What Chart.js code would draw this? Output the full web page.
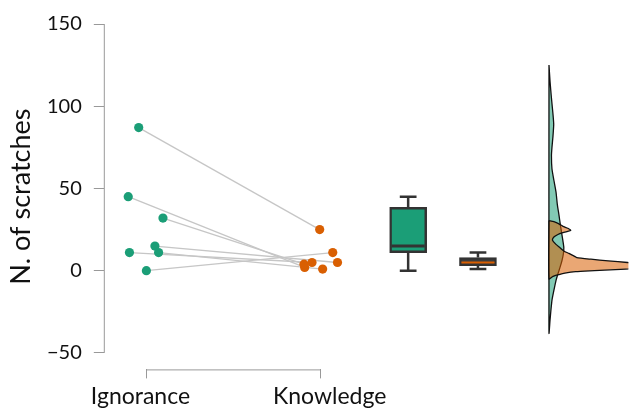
<!DOCTYPE html>
<html>
<head>
<meta charset="utf-8">
<script src="https://cdn.jsdelivr.net/npm/chart.js@4.4.0/dist/chart.umd.min.js"></script>
<style>
  html, body {margin:0; padding:0; background:#fff;}
  #wrap {width:633px; height:414px;}
</style>
</head>
<body>
<div id="wrap"><canvas id="chart1canvas"></canvas></div>
<script>
/* Groups and axis ticks */
const categories=["Ignorance","Knowledge"];
const yTicks=[-50,0,50,100,150];

/* Paired observations (same subject in both conditions), x jitter in category units */
const ignoranceValues=[87,45,32,15,11,11,0];
const ignoranceJitter=[-0.044,-0.104,0.095,0.049,-0.097,0.070,0.000];
const knowledgeValues=[25,2,4,5,5,1,11];
const knowledgeJitter=[-0.007,-0.093,-0.097,0.095,-0.051,0.010,0.068];

/* Half violin outlines: level and width (x units) */
const ignoranceDensityY=[125,115,105,95,89,82,75,70,62,55,48,40,34,28,22,18,14,10,6,2,-2,-6,-12,-18,-24,-30,-38];
const ignoranceDensityW=[0,0.006,0.014,0.023,0.027,0.023,0.017,0.014,0.017,0.028,0.040,0.048,0.057,0.065,0.074,0.080,0.085,0.082,0.074,0.063,0.051,0.040,0.028,0.017,0.011,0.006,0];
const knowledgeDensityY=[30.5,29.8,28.5,27,25.8,24.6,23.8,23,22,20.5,18.6,16,14,12,10.5,9,8,7,6,5,4,3,2,1,0,-0.6,-1.5,-2.4,-3.5,-5];
const knowledgeDensityW=[0,0.028,0.057,0.080,0.108,0.125,0.102,0.074,0.051,0.028,0.020,0.040,0.063,0.085,0.114,0.142,0.159,0.240,0.340,0.450,0.568,0.640,0.568,0.440,0.260,0.153,0.091,0.057,0.023,0];

/* Layout of the extra panels along x */
const boxPositions=[1.5,1.9];
const densityBase=2.307;
const boxHalf=0.105;
const capHalf=0.048;

const green="#1b9e77";
const orange="#d95f02";
const dark="#333333";

function quantile(sorted, q) {
  const pos=(sorted.length-1)*q;
  const lo=Math.floor(pos), hi=Math.ceil(pos);
  return sorted[lo]+(sorted[hi]-sorted[lo])*(pos-lo);
}

/* Box plot statistics, whiskers at 1.5 IQR */
function boxStats(values) {
  const s=[...values].sort((a,b)=>a-b);
  const q1=quantile(s,0.25), med=quantile(s,0.5), q3=quantile(s,0.75);
  const iqr=q3-q1;
  const inside=s.filter(v=>v>=q1-1.5*iqr && v<=q3+1.5*iqr);
  return {q1, med, q3, low: inside[0], high: inside[inside.length-1]};
}

function segment(points, color, width, order) {
  return {type: 'line', data: points, borderColor: color, borderWidth: width, pointRadius: 0, pointHoverRadius: 0, fill: false, tension: 0, order: order};
}

function halfViolin(levels, widths, fillColor, order) {
  const pts=levels.map((y,i)=>({x: densityBase+widths[i], y: y}));
  pts.push({x: densityBase, y: levels[0]});
  return {type: 'line', data: pts, borderColor: "#111", borderWidth: 1.3, backgroundColor: fillColor, pointRadius: 0, pointHoverRadius: 0, fill: 'shape', tension: 0.2, order: order};
}

const datasets=[];

/* Points */
datasets.push({type: 'scatter', data: ignoranceValues.map((v,i)=>({x: ignoranceJitter[i], y: v})), backgroundColor: green, borderWidth: 0, pointRadius: 4.6, pointHoverRadius: 4.6, order: 0});
datasets.push({type: 'scatter', data: knowledgeValues.map((v,i)=>({x: 1+knowledgeJitter[i], y: v})), backgroundColor: orange, borderWidth: 0, pointRadius: 4.6, pointHoverRadius: 4.6, order: 0});

/* Connecting lines */
for (let i=0;i<ignoranceValues.length;i++) {
  datasets.push(segment([{x: ignoranceJitter[i], y: ignoranceValues[i]}, {x: 1+knowledgeJitter[i], y: knowledgeValues[i]}], "#c6c6c6", 1.3, 1));
}

/* Box plots */
const stats=[boxStats(ignoranceValues), boxStats(knowledgeValues)];
const medianColors=[dark, orange];
const medianWidths=[3, 2];
stats.forEach((st,k)=>{
  const c=boxPositions[k];
  datasets.push(segment([{x: c-boxHalf+0.01, y: st.med}, {x: c+boxHalf-0.01, y: st.med}], medianColors[k], medianWidths[k], 2));
  datasets.push(segment([{x: c, y: st.q3}, {x: c, y: st.high}], dark, 2.5, 4));
  datasets.push(segment([{x: c, y: st.q1}, {x: c, y: st.low}], dark, 2.5, 4));
  datasets.push(segment([{x: c-capHalf, y: st.high}, {x: c+capHalf, y: st.high}], dark, 2.5, 4));
  datasets.push(segment([{x: c-capHalf, y: st.low}, {x: c+capHalf, y: st.low}], dark, 2.5, 4));
});
datasets.push({type: 'bar', data: stats.map((st,k)=>({x: boxPositions[k], y: [st.q1, st.q3]})), backgroundColor: [green, "#3c3c3c"], borderColor: dark, borderWidth: 2.5, borderSkipped: false, barThickness: 37, grouped: false, order: 3});

/* Densities */
datasets.push(halfViolin(knowledgeDensityY, knowledgeDensityW, "rgba(217,95,2,0.55)", 5));
datasets.push(halfViolin(ignoranceDensityY, ignoranceDensityW, "rgba(27,158,119,0.55)", 6));

/* Axis lines trimmed to the first/last tick */
const trimmedAxes={
  id: 'trimmedAxes',
  beforeDatasetsDraw(chart) {
    const {ctx, chartArea, scales}=chart;
    ctx.save();
    ctx.strokeStyle="#999";
    ctx.lineWidth=1;
    ctx.beginPath();
    ctx.moveTo(chartArea.left+0.5, scales.y.getPixelForValue(yTicks[0]));
    ctx.lineTo(chartArea.left+0.5, scales.y.getPixelForValue(yTicks[yTicks.length-1]));
    ctx.moveTo(scales.x.getPixelForValue(0), chartArea.bottom+0.5);
    ctx.lineTo(scales.x.getPixelForValue(categories.length-1), chartArea.bottom+0.5);
    ctx.stroke();
    ctx.restore();
  }
};

/* Labels sit slightly off their ticks in the original; nudge with spaces */
const labelNudge=["  ", "   "];

const chart=new Chart(chart1canvas, {
  type: 'scatter',
  data: {datasets: datasets},
  options: {
    responsive: true,
    maintainAspectRatio: false,
    animation: false,
    layout: {padding: {top: 16, left: 8, right: 0, bottom: 0}},
    plugins: {legend: {display: false}, tooltip: {enabled: false}},
    scales: {
      x: {
        type: 'linear', min: -0.244, max: 2.762, offset: false,
        afterBuildTicks: s=>{s.ticks=categories.map((_,i)=>({value: i}));},
        grid: {offset: false, drawOnChartArea: false, drawTicks: true, tickLength: 9, color: "#999"},
        border: {display: false},
        ticks: {font: {family: 'Lato', size: 23}, color: "#111", padding: 4, maxRotation: 0, autoSkip: false,
          callback: v=>(v==0)?categories[0]+labelNudge[0]:labelNudge[1]+categories[1]}
      },
      y: {
        type: 'linear', min: -60, max: 150,
        afterBuildTicks: s=>{s.ticks=yTicks.map(v=>({value: v}));},
        grid: {drawOnChartArea: false, drawTicks: true, tickLength: 10, color: "#999"},
        border: {display: false},
        ticks: {font: {family: 'Lato', size: 20}, color: "#111", padding: 12, callback: v=>String(v).replace('-', '\u2212')},
        title: {display: true, text: "N. of scratches", font: {family: 'Lato', size: 27, lineHeight: 1}, color: "#111", padding: {top: 0, bottom: 0}}
      }
    }
  },
  plugins: [trimmedAxes]
});
</script>
</body>
</html>
